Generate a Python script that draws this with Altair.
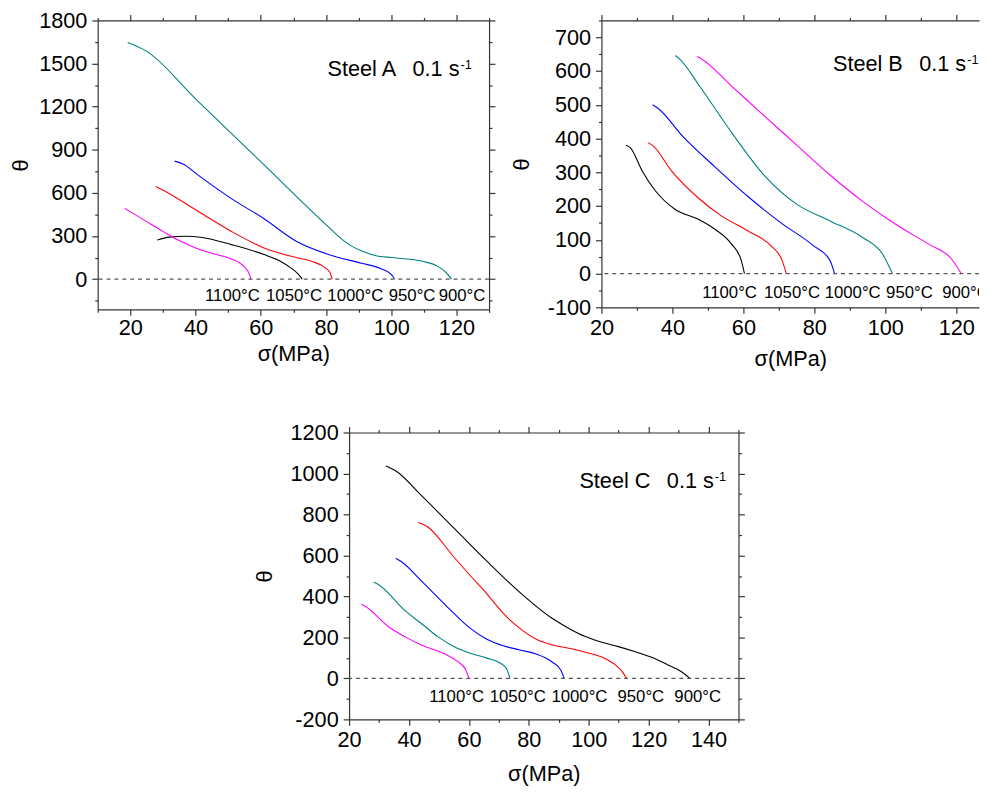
import altair as alt
import pandas as pd

FONT = "Liberation Sans"
TEMP_ORDER = ["1100", "1050", "1000", "950", "900"]
LABEL_TEXT = ["1100°C", "1050°C", "1000°C", "950°C", "900°C"]

# ---------------- Steel A ----------------
A_900_s = [19.2, 24.7, 40, 60, 80, 85, 88, 91, 95, 100, 105, 110, 114, 116.8, 118.5]
A_900_t = [1647, 1590, 1255, 817, 379, 275, 228, 195, 165, 150, 140, 122, 92, 46, 0]
A_950_s = [33.6, 36.3, 41, 51, 61, 71, 81, 91, 96, 99, 100.5, 101]
A_950_t = [821, 800, 720, 560, 420, 262, 170, 110, 80, 50, 20, 0]
A_1000_s = [27.8, 29.8, 41, 51, 61, 71, 76, 79.7, 81.2, 81.9]
A_1000_t = [645, 622, 469, 332, 217, 149, 121, 80, 46, 0]
A_1050_s = [28.3, 32, 37, 42, 51, 61, 66, 69.1, 71.5, 72.7]
A_1050_t = [272, 292, 298, 290, 240, 171, 125, 80, 35, 0]
A_1100_s = [18.3, 19.7, 25, 30, 35, 40, 45, 50, 53, 55, 56.5, 57]
A_1100_t = [492, 473, 400, 332, 268, 217, 180, 149, 120, 85, 35, 0]
A_COLORS = {"900": "#008080", "950": "#0000FF", "1000": "#FF0000", "1050": "#000000", "1100": "#FF00FF"}
A_LABEL_X = [51.3, 70.2, 89.0, 106.4, 121.7]
A_LABEL_Y = -121

# ---------------- Steel B ----------------
B_1100_s = [26.9, 28.1, 31.6, 35.3, 40.8, 47.3, 51.9, 56.6, 59.4, 60.3]
B_1100_t = [380, 373, 302, 244, 190, 161, 132, 88, 39, 0]
B_1050_s = [33.1, 34.4, 39.9, 47.3, 53.8, 61.2, 67.7, 70.9, 72.1]
B_1050_t = [388, 380, 302, 224, 171, 127, 83, 39, 0]
B_1000_s = [34.4, 36.0, 42.7, 51.9, 61.2, 70.5, 79.7, 84.4, 85.7]
B_1000_t = [500, 489, 409, 317, 229, 151, 83, 39, 0]
B_950_s = [40.8, 42.2, 47.3, 56.6, 65.8, 75.1, 84.4, 93.6, 99.2, 102.0]
B_950_t = [646, 634, 561, 419, 292, 205, 156, 107, 58, 0]
B_900_s = [46.9, 48.2, 56.6, 65.8, 75.1, 84.4, 93.6, 102.9, 112.1, 118.6, 121.4]
B_900_t = [643, 636, 556, 468, 380, 292, 214, 146, 88, 44, 0]
B_COLORS = {"900": "#FF00FF", "950": "#008080", "1000": "#0000FF", "1050": "#FF0000", "1100": "#000000"}
B_LABEL_X = [56.1, 73.7, 90.8, 106.8, 122.6]
B_LABEL_Y = -57

# ---------------- Steel C ----------------
C_900_s = [32.3, 35.9, 44.1, 55.1, 66.0, 77.0, 87.9, 93.4, 98.9, 104.4, 109.9, 115.3, 120.8, 126.3, 130.7, 133.8]
C_900_t = [1037, 1010, 893, 732, 572, 420, 292, 244, 204, 176, 155, 131, 104, 67, 35, 0]
C_950_s = [43.0, 45.8, 55.1, 60.5, 66.0, 71.5, 77.0, 82.5, 87.9, 93.4, 98.9, 104.4, 108.8, 111.5, 112.6]
C_950_t = [761, 744, 590, 501, 413, 317, 244, 191, 163, 147, 128, 104, 67, 27, 0]
C_1000_s = [35.6, 37.5, 44.1, 49.6, 55.1, 60.5, 66.0, 71.5, 77.0, 82.5, 87.9, 90.7, 91.8]
C_1000_t = [585, 569, 476, 396, 316, 244, 191, 159, 139, 119, 79, 40, 0]
C_1050_s = [28.2, 29.9, 38.6, 44.1, 49.6, 55.1, 60.5, 66.0, 70.4, 72.6, 73.7]
C_1050_t = [470, 457, 332, 268, 204, 155, 123, 99, 75, 46, 0]
C_1100_s = [24.1, 25.5, 33.2, 38.6, 44.1, 51.8, 56.2, 58.9, 60.0]
C_1100_t = [362, 351, 252, 204, 163, 120, 83, 43, 0]
C_COLORS = {"900": "#000000", "950": "#FF0000", "1000": "#0000FF", "1050": "#008080", "1100": "#FF00FF"}
C_LABEL_X = [55.9, 76.3, 96.9, 117.4, 136.4]
C_LABEL_Y = -93

GAP = "\u00a0\u00a0\u2009"


def curves_df(curves, colors):
    rows = []
    for temp, (xs, ys) in curves.items():
        for i, (x, y) in enumerate(zip(xs, ys)):
            rows.append({"s": x, "t": y, "T": temp, "i": i, "col": colors[temp]})
    return pd.DataFrame(rows)


def tick_size(step):
    return {"condition": {"test": f"abs(datum.value % {step}) < 0.001", "value": 6}, "value": 3}


def label_expr(step):
    return f"abs(datum.value % {step}) < 0.001 ? '' + datum.value : ''"


COMMON_AXIS = dict(
    domainColor="#333333", tickColor="#333333", domainWidth=1.2, tickWidth=1.2,
    grid=False, labelFont=FONT, labelFontSize=22, labelColor="black",
    titleFont=FONT, titleFontSize=22, titleFontWeight="normal", titleColor="black",
    labelOverlap=False, labelFlush=False,
)


def make_panel(curves, colors, label_x, label_y, xdom, ydom, xvals, xstep, yvals, ystep,
               width, height, ann, ann_x, ann_y, sup_y, right_axis, xlabel_pad, xtitle_pad,
               ytitle_pad, clip_labels=False):
    df = curves_df(curves, colors)
    xscale = alt.Scale(domain=xdom, nice=False, zero=False)
    yscale = alt.Scale(domain=ydom, nice=False, zero=False)
    x_axis = alt.Axis(orient="bottom", values=xvals, labelExpr=label_expr(xstep), tickSize=tick_size(xstep),
                      title="σ(MPa)", labelPadding=xlabel_pad, titlePadding=xtitle_pad, **COMMON_AXIS)
    y_axis = alt.Axis(orient="left", values=yvals, labelExpr=label_expr(ystep), tickSize=tick_size(ystep),
                      title="θ", labelPadding=5, titlePadding=ytitle_pad, **COMMON_AXIS)
    lines = alt.Chart(df).mark_line(strokeWidth=1.1, interpolate="monotone").encode(
        x=alt.X("s:Q", scale=xscale, axis=x_axis),
        y=alt.Y("t:Q", scale=yscale, axis=y_axis),
        color=alt.Color("col:N", scale=None),
        detail="T:N",
        order=alt.Order("i:Q"),
    )
    zero = alt.Chart(pd.DataFrame({"z": [0]})).mark_rule(strokeDash=[4, 4], color="#555555", strokeWidth=1.2).encode(
        y=alt.Y("z:Q", scale=yscale, axis=None)
    )
    lab_df = pd.DataFrame({"x": label_x, "y": [label_y] * len(label_x), "txt": LABEL_TEXT})
    labels = alt.Chart(lab_df).mark_text(font=FONT, fontSize=17, color="black", clip=clip_labels).encode(
        x=alt.X("x:Q", scale=xscale, axis=None),
        y=alt.Y("y:Q", scale=yscale, axis=None),
        text="txt:N",
    )
    one = pd.DataFrame({"a": [0]})
    ann_text = alt.Chart(one).mark_text(font=FONT, fontSize=22, align="right", baseline="alphabetic", color="black").encode(
        x=alt.value(ann_x), y=alt.value(ann_y), text=alt.value(ann)
    )
    sup_text = alt.Chart(one).mark_text(font=FONT, fontSize=13, align="left", baseline="alphabetic", color="black").encode(
        x=alt.value(ann_x + 1), y=alt.value(sup_y), text=alt.value("-1")
    )
    top_axis = alt.Axis(orient="top", values=xvals, labels=False, title=None, tickSize=tick_size(xstep), **COMMON_AXIS)
    if right_axis:
        ry = alt.Y("t:Q", scale=yscale, axis=alt.Axis(orient="right", values=yvals, labels=False, title=None,
                                                       tickSize=tick_size(ystep), **COMMON_AXIS))
    else:
        ry = alt.Y("t:Q", scale=yscale, axis=None)
    frame = alt.Chart(df).mark_point(opacity=0).encode(
        x=alt.X("s:Q", scale=xscale, axis=top_axis), y=ry
    )
    return alt.layer(lines, zero, labels, ann_text, sup_text, frame).resolve_axis(
        x="independent", y="independent"
    ).properties(width=width, height=height)


panel_a = make_panel(
    {"900": (A_900_s, A_900_t), "950": (A_950_s, A_950_t), "1000": (A_1000_s, A_1000_t),
     "1050": (A_1050_s, A_1050_t), "1100": (A_1100_s, A_1100_t)},
    A_COLORS, A_LABEL_X, A_LABEL_Y, [10, 130], [-210, 1800],
    list(range(10, 131, 10)), 20, list(range(-150, 1801, 150)), 300,
    397, 293, "Steel A" + GAP + "0.1 s", 367, 56, 49, True, 3, 5, 6,
)
panel_b = make_panel(
    {"900": (B_900_s, B_900_t), "950": (B_950_s, B_950_t), "1000": (B_1000_s, B_1000_t),
     "1050": (B_1050_s, B_1050_t), "1100": (B_1100_s, B_1100_t)},
    B_COLORS, B_LABEL_X, B_LABEL_Y, [20, 126.4], [-100, 750],
    list(range(20, 121, 10)), 20, list(range(-100, 751, 50)), 100,
    383, 291, "Steel B" + GAP + "0.1 s", 370, 51, 44, False, 5, 10, 14, clip_labels=True,
)
panel_c = make_panel(
    {"900": (C_900_s, C_900_t), "950": (C_950_s, C_950_t), "1000": (C_1000_s, C_1000_t),
     "1050": (C_1050_s, C_1050_t), "1100": (C_1100_s, C_1100_t)},
    C_COLORS, C_LABEL_X, C_LABEL_Y, [20, 150], [-200, 1200],
    list(range(20, 151, 10)), 20, list(range(-200, 1201, 100)), 200,
    395, 291, "Steel C" + GAP + "0.1 s", 370, 56, 49, True, 5, 13, 14,
)

spacer = alt.Chart(pd.DataFrame({"a": [0]})).mark_rect(opacity=0).encode(
    x=alt.value(0), x2=alt.value(1), y=alt.value(0), y2=alt.value(1)
).properties(width=1, height=1)

top_row = alt.hconcat(panel_a, panel_b, spacing=114, bounds="flush")
bottom_row = alt.hconcat(spacer, panel_c, spacing=254, bounds="flush")

chart = alt.vconcat(top_row, bottom_row, spacing=53).properties(
    padding={"left": 2, "top": -4, "right": 0, "bottom": 0}, background="white"
).configure_view(stroke=None)

chart.save("out.html", embed_options={"renderer": "svg", "actions": False})
